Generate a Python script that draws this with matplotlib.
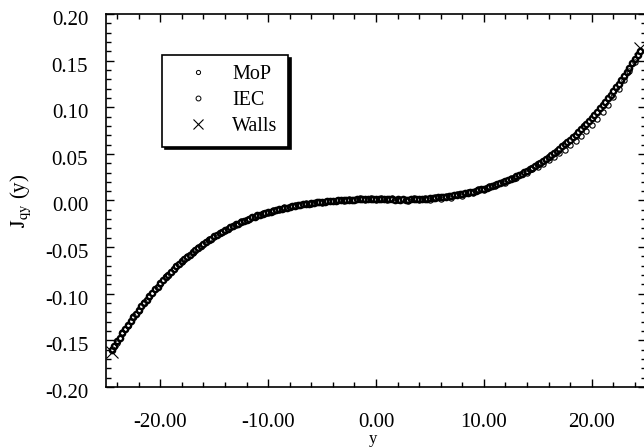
import numpy as np
import matplotlib
matplotlib.use('Agg')
import matplotlib.pyplot as plt
from matplotlib.transforms import ScaledTranslation

plt.rcParams['font.family'] = ['Liberation Serif', 'DejaVu Serif']
plt.rcParams['mathtext.fontset'] = 'stix'
plt.rcParams['axes.unicode_minus'] = False

# --- data ------------------------------------------------------------------
# MoP : one value every 0.25 in y, from -24.5 to 24.5
mop_y = np.arange(-24.5, 24.51, 0.25)
mop_j = [
    -0.1605, -0.1562, -0.1510, -0.1470, -0.1421, -0.1381, -0.1334, -0.1296,
    -0.1250, -0.1214, -0.1171, -0.1136, -0.1095, -0.1062, -0.1022, -0.0991,
    -0.0952, -0.0923, -0.0886, -0.0858, -0.0823, -0.0797, -0.0763, -0.0738,
    -0.0706, -0.0683, -0.0652, -0.0630, -0.0601, -0.0581, -0.0553, -0.0534,
    -0.0507, -0.0489, -0.0464, -0.0448, -0.0424, -0.0408, -0.0386, -0.0372,
    -0.0350, -0.0337, -0.0317, -0.0305, -0.0286, -0.0275, -0.0257, -0.0247,
    -0.0230, -0.0221, -0.0205, -0.0197, -0.0182, -0.0175, -0.0161, -0.0155,
    -0.0142, -0.0137, -0.0124, -0.0119, -0.0108, -0.0103, -0.0093, -0.0089,
    -0.0080, -0.0076, -0.0068, -0.0064, -0.0057, -0.0053, -0.0047, -0.0043,
    -0.0037, -0.0034, -0.0029, -0.0026, -0.0021, -0.0019, -0.0015, -0.0012,
    -0.0009, -0.0007, -0.0004, -0.0002, 0.0000, 0.0002, 0.0004, 0.0005,
    0.0007, 0.0008, 0.0010, 0.0011, 0.0013, 0.0012, 0.0014, 0.0013,
    0.0015, 0.0014, 0.0013,
    0.0013, 0.0014, 0.0012, 0.0015, 0.0011, 0.0013, 0.0010, 0.0012,
    0.0009, 0.0011, 0.0008, 0.0010, 0.0012, 0.0013, 0.0011, 0.0015,
    0.0016, 0.0018, 0.0020, 0.0022, 0.0026, 0.0028, 0.0033, 0.0034,
    0.0039, 0.0041, 0.0047, 0.0049, 0.0056, 0.0059, 0.0066, 0.0069,
    0.0077, 0.0081, 0.0090, 0.0094, 0.0103, 0.0109, 0.0119, 0.0125,
    0.0136, 0.0143, 0.0154, 0.0162, 0.0174, 0.0183, 0.0196, 0.0206,
    0.0220, 0.0231, 0.0246, 0.0258, 0.0274, 0.0287, 0.0304, 0.0318,
    0.0336, 0.0351, 0.0371, 0.0387, 0.0407, 0.0425, 0.0447, 0.0465,
    0.0488, 0.0508, 0.0533, 0.0554, 0.0580, 0.0602, 0.0629, 0.0653,
    0.0682, 0.0707, 0.0737, 0.0764, 0.0796, 0.0824, 0.0857, 0.0887,
    0.0922, 0.0953, 0.0990, 0.1023, 0.1061, 0.1096, 0.1135, 0.1172,
    0.1213, 0.1251, 0.1295, 0.1335, 0.1380, 0.1422, 0.1469, 0.1512,
    0.1561, 0.1607,
]

# IEC : one value every 0.5 in y
iec_y = np.arange(-24.5, 24.51, 0.5)
iec_j = [
    -0.1590, -0.1525, -0.1410, -0.1345, -0.1240, -0.1180, -0.1085, -0.1030,
    -0.0945, -0.0893, -0.0815, -0.0770, -0.0700, -0.0660, -0.0595, -0.0560,
    -0.0500, -0.0470, -0.0418, -0.0392, -0.0345, -0.0322, -0.0280, -0.0262,
    -0.0225, -0.0210, -0.0176, -0.0168, -0.0136, -0.0130, -0.0100, -0.0099,
    -0.0072, -0.0075, -0.0050, -0.0053, -0.0030, -0.0035, -0.0016, -0.0022,
    -0.0003, -0.0010, 0.0008, -0.0003, 0.0015, 0.0002, 0.0022, 0.0008,
    0.0030, 0.0005, 0.0028, 0.0004, 0.0024, 0.0000, 0.0020, -0.0005,
    0.0022, 0.0002, 0.0030, 0.0005, 0.0038, 0.0015, 0.0052, 0.0030,
    0.0068, 0.0052, 0.0092, 0.0078, 0.0121, 0.0108, 0.0150, 0.0150,
    0.0190, 0.0190, 0.0236, 0.0240, 0.0288, 0.0300, 0.0335, 0.0362,
    0.0395, 0.0430, 0.0465, 0.0505, 0.0545, 0.0595, 0.0640, 0.0695,
    0.0745, 0.0810, 0.0875, 0.0950, 0.1025, 0.1110, 0.1195, 0.1290,
    0.1390, 0.1490, 0.1600,
]

walls_y = [-24.5, 24.5]
walls_j = [-0.162, 0.163]

x_major = [-20, -10, 0, 10, 20]
y_major = [-0.20, -0.15, -0.10, -0.05, 0.0, 0.05, 0.10, 0.15, 0.20]

# --- figure -----------------------------------------------------------------
fig = plt.figure(figsize=(6.44, 4.48), dpi=100)
ax = fig.add_axes([0.165, 0.1362, 0.8376, 0.8326])

ax.plot(mop_y, mop_j, ls='none', marker='o', ms=3.8, mfc='white',
        mec='black', mew=1.7, label='MoP', zorder=2)
ax.plot(iec_y, iec_j, ls='none', marker='o', ms=3.8, mfc='none',
        mec='black', mew=0.8, label='IEC', zorder=3)
ax.plot(walls_y, walls_j, ls='none', marker='x', ms=8, mec='black',
        mew=0.8, label='Walls', zorder=4)

ax.set_xlim(-25, 25)
ax.set_ylim(-0.20, 0.20)
ax.set_xticks(x_major)
ax.set_xticks(np.arange(-24, 25, 2), minor=True)
ax.set_yticks(y_major)
ax.set_yticks(np.round(np.arange(-0.20, 0.201, 0.01), 2), minor=True)
ax.xaxis.set_major_formatter(plt.FormatStrFormatter('%.2f'))
ax.yaxis.set_major_formatter(plt.FormatStrFormatter('%.2f'))

ax.tick_params(which='both', direction='in', top=True, right=True,
               width=1.0, labelsize=15)
ax.tick_params(which='major', length=6)
ax.tick_params(which='minor', length=3.5)
ax.tick_params(axis='x', pad=19)
ax.tick_params(axis='y', pad=13)
for sp in ax.spines.values():
    sp.set_linewidth(1.2)

# y labels sit a little below their ticks in the original
for lab in ax.get_yticklabels():
    lab.set_transform(lab.get_transform() +
                      ScaledTranslation(0, -4 / 100, fig.dpi_scale_trans))

ax.set_xlabel('y', fontsize=12, va='baseline')
ax.xaxis.set_label_coords(0.4945, -0.150)
ax.set_ylabel(r'$\mathrm{J_{qy}}$ (y)', fontsize=15)
ax.yaxis.set_label_coords(-0.136, 0.5)

leg = ax.legend(loc='upper left', bbox_to_anchor=(0.103, 0.89),
                borderaxespad=0, fontsize=14.5, fancybox=False,
                shadow={'color': 'black', 'alpha': 1.0}, edgecolor='black',
                framealpha=1, handlelength=2.6, handletextpad=0.4,
                labelspacing=0.35, borderpad=0.5, numpoints=1)
leg.get_frame().set_linewidth(1.2)
# legend symbols are drawn small and thin in the original
for h, s, w in zip(leg.legend_handles, [3.0, 3.5, 7.5], [0.7, 0.7, 0.8]):
    h.set_markersize(s)
    h.set_markeredgewidth(w)

fig.savefig('out.png', dpi=100)
